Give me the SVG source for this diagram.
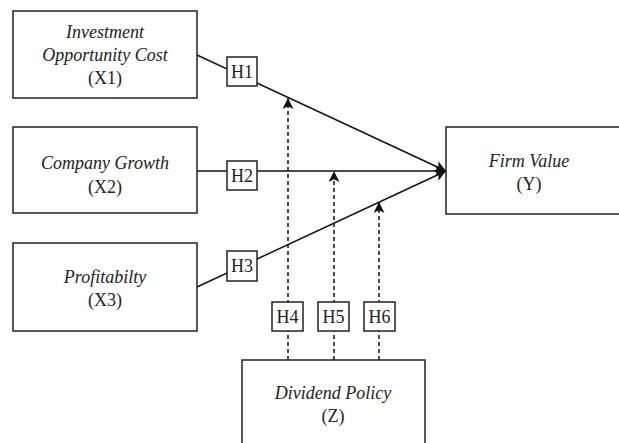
<svg xmlns="http://www.w3.org/2000/svg" width="619" height="443" viewBox="0 0 619 443">
<defs>
<style>
.box{fill:#fff;stroke:#222;stroke-width:1.5}
.hbox{fill:#fff;stroke:#222;stroke-width:1.5}
.t{font-family:"Liberation Serif","Times New Roman","DejaVu Serif",serif;font-size:18px;fill:#222;text-anchor:middle}
.i{font-style:italic}
.line{stroke:#111;stroke-width:1.5;fill:none}
.dash{stroke:#111;stroke-width:1.5;fill:none;stroke-dasharray:4 3}
</style>
<marker id="arr" viewBox="0 0 10 10" refX="10" refY="5" markerWidth="11" markerHeight="11" markerUnits="userSpaceOnUse" orient="auto">
<path d="M0,0 L10,5 L0,10 L2.5,5 Z" fill="#111"/>
</marker>
</defs>
<rect width="619" height="443" fill="#fff"/>
<g id="connectors">
<line class="line" x1="197" y1="55" x2="446" y2="171" marker-end="url(#arr)"/>
<line class="line" x1="197" y1="171" x2="446" y2="171" marker-end="url(#arr)"/>
<line class="line" x1="197" y1="287" x2="446" y2="171" marker-end="url(#arr)"/>
<line class="dash" x1="288" y1="360" x2="288" y2="98" marker-end="url(#arr)"/>
<line class="dash" x1="334" y1="360" x2="334" y2="171" marker-end="url(#arr)"/>
<line class="dash" x1="379" y1="360" x2="379" y2="202" marker-end="url(#arr)"/>
</g>
<g id="x1">
<rect class="box" x="13" y="11" width="184" height="87"/>
<text class="t i" x="105" y="38">Investment</text>
<text class="t i" x="105" y="61">Opportunity Cost</text>
<text class="t" x="105" y="84">(X1)</text>
</g>
<g id="x2">
<rect class="box" x="13" y="127" width="184" height="86"/>
<text class="t i" x="105" y="169">Company Growth</text>
<text class="t" x="105" y="193">(X2)</text>
</g>
<g id="x3">
<rect class="box" x="13" y="243" width="184" height="88"/>
<text class="t i" x="105" y="283">Profitabilty</text>
<text class="t" x="105" y="306">(X3)</text>
</g>
<g id="y">
<rect class="box" x="446" y="127" width="180" height="87"/>
<text class="t i" x="529" y="167">Firm Value</text>
<text class="t" x="529" y="190">(Y)</text>
</g>
<g id="z">
<rect class="box" x="242" y="360" width="183" height="90"/>
<text class="t i" x="333" y="399">Dividend Policy</text>
<text class="t" x="333" y="422">(Z)</text>
</g>
<g id="h1"><rect class="hbox" x="227" y="57" width="30" height="29"/><text class="t" x="242" y="78">H1</text></g>
<g id="h2"><rect class="hbox" x="227" y="161" width="30" height="29"/><text class="t" x="242" y="182">H2</text></g>
<g id="h3"><rect class="hbox" x="227" y="251" width="30" height="30"/><text class="t" x="242" y="272">H3</text></g>
<g id="h4"><rect class="hbox" x="272" y="302" width="31" height="29"/><text class="t" x="287.5" y="323">H4</text></g>
<g id="h5"><rect class="hbox" x="318" y="302" width="31" height="29"/><text class="t" x="333.5" y="323">H5</text></g>
<g id="h6"><rect class="hbox" x="364" y="302" width="31" height="29"/><text class="t" x="379.5" y="323">H6</text></g>
</svg>
